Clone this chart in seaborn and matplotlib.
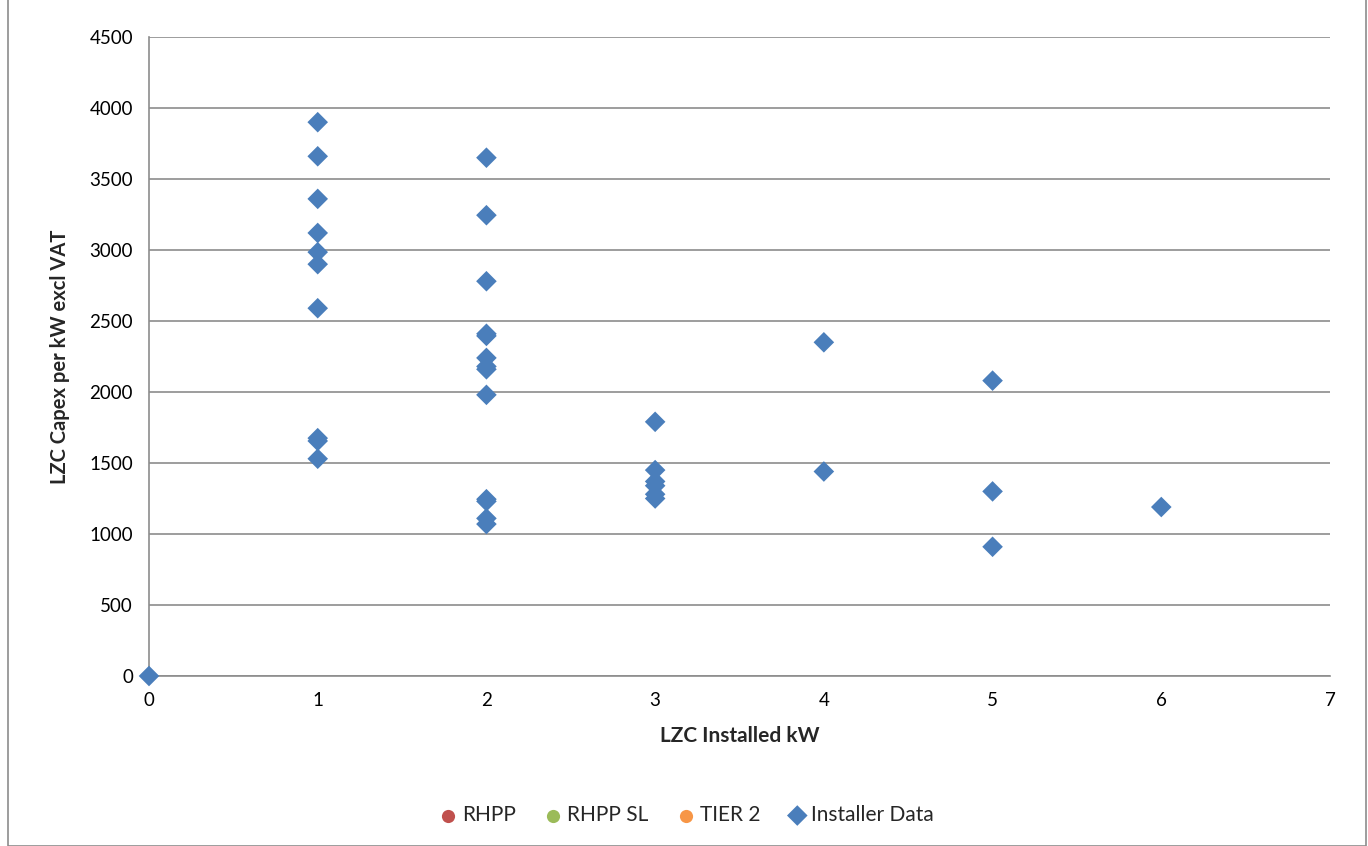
import matplotlib
matplotlib.use("Agg")
import matplotlib.pyplot as plt
import seaborn as sns
import pandas as pd
from matplotlib.patches import Rectangle

# Data
installed_kw = [0,
                1, 1, 1, 1, 1, 1, 1, 1, 1, 1,
                2, 2, 2, 2, 2, 2, 2, 2, 2, 2, 2, 2, 2,
                3, 3, 3, 3, 3, 3,
                4, 4,
                5, 5, 5,
                6]
capex_per_kw = [0,
                3900, 3660, 3360, 3120, 2985, 2900, 2590, 1675, 1655, 1530,
                3650, 3245, 2780, 2410, 2395, 2240, 2180, 2160, 1980, 1245, 1230, 1110, 1070,
                1790, 1450, 1370, 1340, 1280, 1250,
                2350, 1440,
                2080, 1300, 910,
                1190]
empty_series = ["RHPP", "RHPP SL", "TIER 2"]
empty_colors = ["#C0504D", "#9BBB59", "#F79646"]
series_name = "Installer Data"
y_ticks = [0, 500, 1000, 1500, 2000, 2500, 3000, 3500, 4000, 4500]
x_ticks = [0, 1, 2, 3, 4, 5, 6, 7]

df = pd.DataFrame({"kW": installed_kw, "capex": capex_per_kw})

sns.set_style("white")
plt.rcParams["font.family"] = ["Lato", "DejaVu Sans"]

fig = plt.figure(figsize=(13.68, 8.46), dpi=100)
ax = fig.add_axes([149/1368, 1 - 676/846, (1330-149)/1368, (676-37)/846])

for name, col in zip(empty_series, empty_colors):
    ax.scatter([], [], marker="o", s=90, color=col, label=name, linewidths=0)

sns.scatterplot(data=df, x="kW", y="capex", marker="D", s=110, color="#4A7EBB",
                edgecolor="none", linewidth=0, ax=ax, label=series_name, zorder=3, clip_on=False)

ax.set_xlim(0, 7)
ax.set_ylim(0, 4500)
ax.set_xticks(x_ticks)
ax.set_yticks(y_ticks)
ax.yaxis.grid(True, color="#8C8C8C", linewidth=1.2)
ax.set_axisbelow(True)
for s in ["top", "right"]:
    ax.spines[s].set_visible(False)
for s in ["left", "bottom"]:
    ax.spines[s].set_color("#8C8C8C")
    ax.spines[s].set_linewidth(1.2)
ax.tick_params(axis="both", which="major", direction="out", length=4.5, width=1.2,
               color="#8C8C8C", labelsize=13.5, labelcolor="black", pad=7)
ax.set_xlabel("LZC Installed kW", fontsize=15, fontweight="bold", labelpad=12, color="#262626")
ax.set_ylabel("LZC Capex per kW excl VAT", fontsize=14.5, fontweight="bold", labelpad=14, color="#262626")

handles, labels = ax.get_legend_handles_labels()
ax.get_legend().remove() if ax.get_legend() else None
fig.legend(handles, labels, loc="center", bbox_to_anchor=(686/1368, 1 - 815/846),
           ncol=4, frameon=False, fontsize=15, handlelength=1.0, handletextpad=0.17,
           columnspacing=1.28, markerscale=1.0)

fig.patches.append(Rectangle((8/1368, 0), (1366-8)/1368, 1.2, transform=fig.transFigure,
                             fill=False, edgecolor="#8C8C8C", linewidth=1.2))

fig.savefig("out.png", dpi=100)
